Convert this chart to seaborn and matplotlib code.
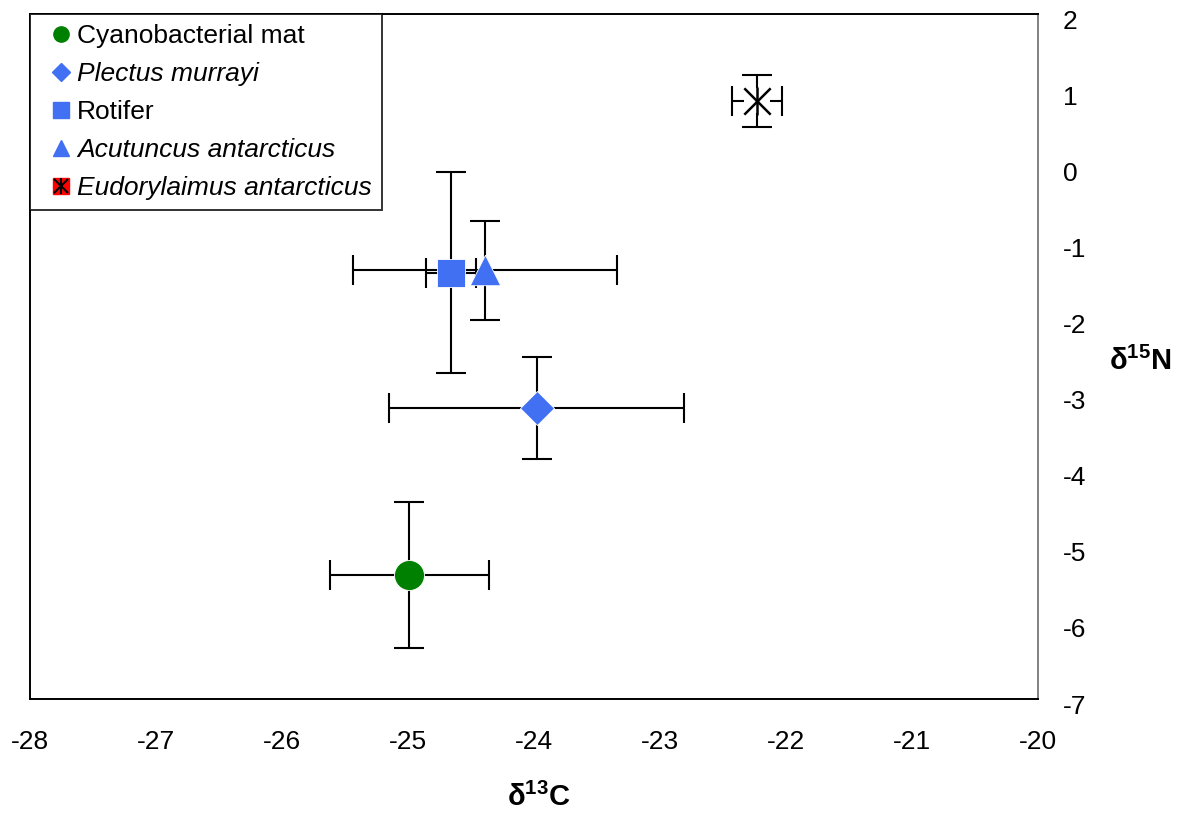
import matplotlib
matplotlib.use("Agg")
import matplotlib.pyplot as plt
import matplotlib.transforms as mtransforms
from matplotlib.lines import Line2D
import seaborn as sns
import pandas as pd

groups = ["Cyanobacterial mat", "Plectus murrayi", "Rotifer",
          "Acutuncus antarcticus", "Eudorylaimus antarcticus"]
d13C = [-24.99, -23.98, -24.66, -24.39, -22.23]
d15N = [-5.37, -3.18, -1.40, -1.37, 0.86]
sd13C = [0.63, 1.17, 0.20, 1.05, 0.20]
sd15N = [0.96, 0.67, 1.32, 0.65, 0.34]
italic = [False, True, False, True, True]

x_ticks = [-28, -27, -26, -25, -24, -23, -22, -21, -20]
y_ticks = [2, 1, 0, -1, -2, -3, -4, -5, -6, -7]
y_tick_labels = ["2", "1", "0", "-1", "-2", "-3", "-4", "-5", "-6", "-7"]

sns.set_theme(style="white")
plt.rcParams['font.family'] = ['Liberation Sans', 'DejaVu Sans']
plt.rcParams['text.color'] = 'black'
plt.rcParams['mathtext.fontset'] = 'custom'
plt.rcParams['mathtext.bf'] = 'Liberation Sans:bold'
plt.rcParams['mathtext.rm'] = 'Liberation Sans'

fig = plt.figure(figsize=(11.79, 8.15), dpi=100)
ax = fig.add_axes([30 / 1179, 1 - 699 / 815, 1008 / 1179, 685 / 815])

df = pd.DataFrame({"group": groups, "x": d13C, "y": d15N,
                   "sx": sd13C, "sy": sd15N})

# error bars
ax.errorbar(df["x"], df["y"], xerr=df["sx"], yerr=df["sy"], fmt="none",
            ecolor="black", elinewidth=1.5, capsize=11, capthick=1.5, zorder=2)

green = "#008000"
blue = "#4170F2"
markers = {"Cyanobacterial mat": "o", "Plectus murrayi": "D", "Rotifer": "s",
           "Acutuncus antarcticus": "^"}
sizes = {"o": 466, "D": 300, "s": 400, "^": 480}
colors = {"Cyanobacterial mat": green, "Plectus murrayi": blue,
          "Rotifer": blue, "Acutuncus antarcticus": blue}
for g, m in markers.items():
    sub = df[df["group"] == g]
    sns.scatterplot(data=sub, x="x", y="y", marker=m, s=sizes[m],
                    color=colors[g], edgecolor="white", linewidth=0.6,
                    ax=ax, zorder=3, legend=False)

sub = df[df["group"] == "Eudorylaimus antarcticus"]
sns.scatterplot(data=sub, x="x", y="y", marker="s", s=330, color="white",
                edgecolor="none", ax=ax, zorder=3, legend=False)
sns.scatterplot(data=sub, x="x", y="y", marker="x", s=360, color="black",
                linewidth=1.8, ax=ax, zorder=4, legend=False)
sns.scatterplot(data=sub, x="x", y="y", marker="|", s=420, color="black",
                linewidth=1.8, ax=ax, zorder=4, legend=False)

ax.set_xlim(-28, -20)
ax.set_ylim(-7, 2)
ax.set_xticks(x_ticks)
ax.set_xticklabels([str(t) for t in x_ticks])
ax.set_yticks(y_ticks)
ax.set_yticklabels(y_tick_labels)
ax.yaxis.tick_right()
ax.tick_params(axis="x", length=0, pad=22, labelsize=19, labelcolor="black")
ax.tick_params(axis="y", length=0, pad=18, labelsize=19, labelcolor="black")
offset = mtransforms.ScaledTranslation(0, -5 / 100, fig.dpi_scale_trans)
for lab in ax.get_yticklabels():
    lab.set_transform(lab.get_transform() + offset)
ax.grid(False)
for s in ["left", "top", "bottom"]:
    ax.spines[s].set_color("black")
    ax.spines[s].set_linewidth(1.4)
ax.spines["right"].set_color("#808080")
ax.spines["right"].set_linewidth(1.4)
ax.set_xlabel("")
ax.set_ylabel("")

fig.text(539 / 1179, 1 - 797 / 815, r"$\mathbf{δ^{13}C}$", ha="center",
         va="center", fontsize=21)
fig.text(1140 / 1179, 1 - 361 / 815, r"$\mathbf{δ^{15}N}$", ha="center",
         va="center", fontsize=21)

# legend
handles = [
    Line2D([], [], marker="o", color=green, ls="none", ms=11),
    Line2D([], [], marker="D", color=blue, ls="none", ms=9),
    Line2D([], [], marker="s", color=blue, ls="none", ms=12),
    Line2D([], [], marker="^", color=blue, ls="none", ms=12),
    (Line2D([], [], marker="s", color="red", mec="red", ls="none", ms=12),
     Line2D([], [], marker="x", color="black", mew=1.5, ls="none", ms=10),
     Line2D([], [], marker="|", color="black", mew=1.5, ls="none", ms=11)),
]
leg = ax.legend(handles, groups, loc="upper left", bbox_to_anchor=(0, 1),
                borderaxespad=0, frameon=True, fancybox=False, fontsize=19,
                handlelength=1.6, handletextpad=-0.2, labelspacing=0.53,
                borderpad=0.38)
leg.get_frame().set_edgecolor("black")
leg.get_frame().set_linewidth(1.4)
for t, it in zip(leg.get_texts(), italic):
    t.set_color("black")
    if it:
        t.set_style("italic")

fig.savefig("out.png", dpi=100)
